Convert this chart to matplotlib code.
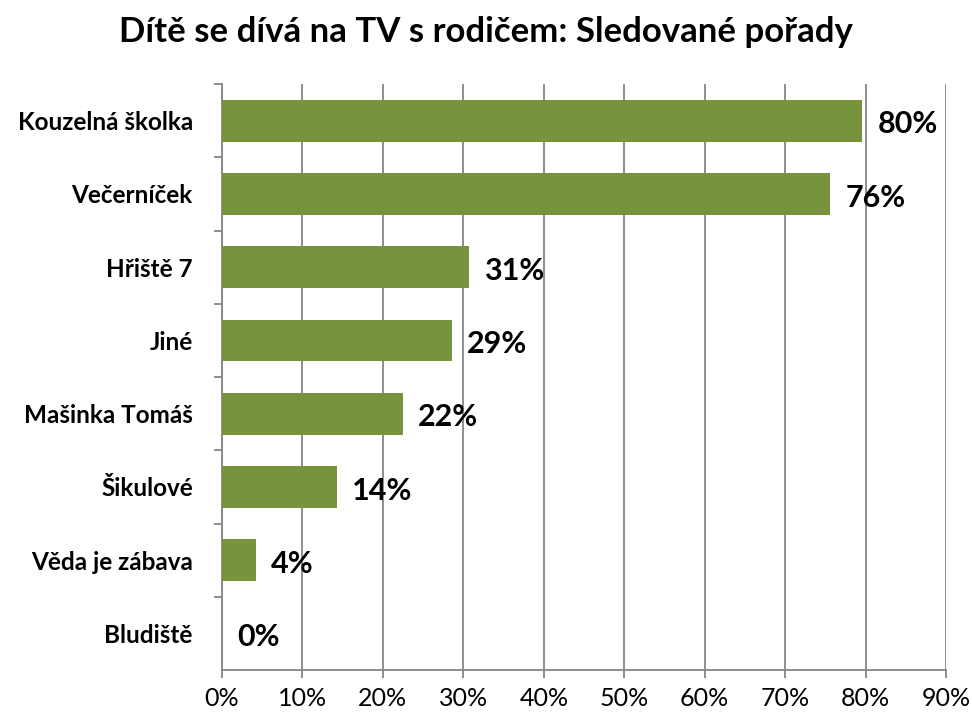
import matplotlib
matplotlib.use("Agg")
import matplotlib.pyplot as plt
from matplotlib.ticker import MultipleLocator, FuncFormatter

plt.rcParams['font.family'] = ['Lato', 'DejaVu Sans']

# data
shows = ["Kouzelná školka", "Večerníček", "Hřiště 7", "Jiné",
         "Mašinka Tomáš", "Šikulové", "Věda je zábava", "Bludiště"]
share = [79.6, 75.6, 30.7, 28.6, 22.5, 14.3, 4.2, 0.0]
value_labels = ["80%", "76%", "31%", "29%", "22%", "14%", "4%", "0%"]

bar_color = "#77933C"
axis_gray = "#868686"

fig = plt.figure(figsize=(9.72, 7.15), dpi=100)
ax = fig.add_axes([0.2284, 0.0629, 0.7449, 0.8196])

pos = list(range(len(shows)))[::-1]
ax.barh(pos, share, height=0.57, color=bar_color, zorder=3)

for y, v, lab in zip(pos, share, value_labels):
    ax.text(v + 1.9, y - 0.05, lab, va="center", ha="left",
            fontsize=22, fontweight="bold", color="black")

ax.set_xlim(0, 90)
ax.set_ylim(-0.5, len(shows) - 0.5)
ax.xaxis.set_major_locator(MultipleLocator(10))
ax.xaxis.set_major_formatter(FuncFormatter(lambda x, _: f"{x:.0f}%"))
ax.set_yticks([p + 0.5 for p in range(len(shows))])
ax.set_yticklabels([])
ax.set_yticks(pos, minor=True)
ax.set_yticklabels(shows, minor=True, fontsize=17.5, fontweight="bold")
ax.tick_params(axis="y", which="minor", length=0, pad=21)
ax.tick_params(axis="y", which="major", length=6, color=axis_gray, width=1.3)
ax.tick_params(axis="x", length=6, color=axis_gray, width=1.3,
               labelsize=18, pad=6)

ax.grid(axis="x", color=axis_gray, linewidth=1.3, zorder=0)
for s in ["top", "right"]:
    ax.spines[s].set_visible(False)
for s in ["left", "bottom"]:
    ax.spines[s].set_color(axis_gray)
    ax.spines[s].set_linewidth(1.3)

fig.text(0.5, 0.955, "Dítě se dívá na TV s rodičem: Sledované pořady",
         ha="center", va="center", fontsize=25, fontweight="bold")

fig.savefig("out.png", dpi=100)
